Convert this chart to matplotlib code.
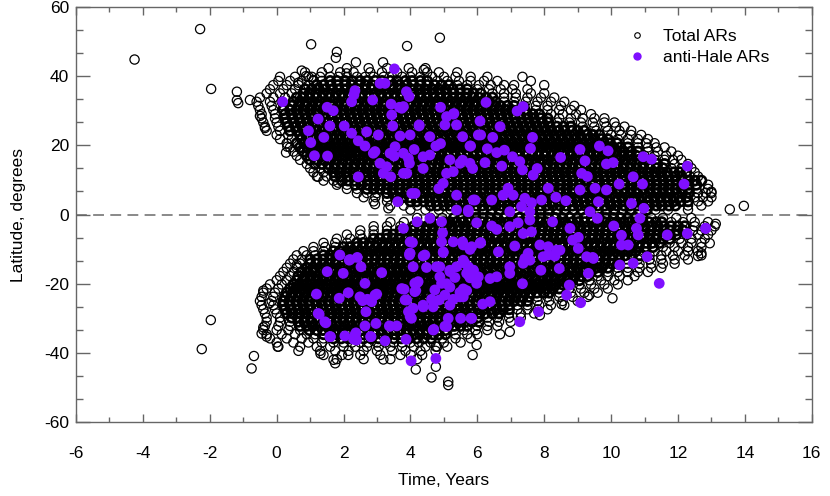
import matplotlib
matplotlib.use("Agg")
import matplotlib.pyplot as plt
import numpy as np
from matplotlib.lines import Line2D
from matplotlib.ticker import MultipleLocator

plt.rcParams["font.family"] = ["Liberation Sans", "DejaVu Sans"]
plt.rcParams["axes.unicode_minus"] = False

# Total ARs, northern wing: (latitude, [times in years]) read row by row
north_rows = [
    (42.3, [1.55, 2.1, 2.75, 3.3, 3.95, 4.45]),
    (41.1, [0.85, 1.35, 1.9, 2.3, 2.8, 3.15, 3.6, 4.05, 4.5, 4.85, 5.4]),
    (39.8, [0.1, 0.55, 0.95, 1.3, 1.6, 1.85, 2.1, 2.4, 2.65, 2.9, 3.2, 3.45, 3.75, 4.0, 4.3, 4.65, 5.0, 5.35, 5.8, 6.3, 7.35]),
    (38.6, [0.05, 0.4, 0.75, 1.1, 1.35, 1.6, 1.8, 2.05, 2.25, 2.5, 2.7, 2.95, 3.15, 3.4, 3.6, 3.85, 4.05, 4.3, 4.5, 4.8, 5.1, 5.45, 5.8, 6.2, 6.6, 7.6]),
    (37.4, [-0.1, 0.3, 0.65, 0.95, 1.2, 1.4, 1.62, 1.83, 2.05, 2.24, 2.45, 2.66, 2.85, 3.07, 3.26, 3.48, 3.67, 3.88, 4.08, 4.3, 4.5, 4.72, 4.93, 5.15, 5.4, 5.7, 6.05, 6.4, 6.8, 7.1, 8.0]),
    (36.2, [-0.2, 0.2, 0.55, 0.85, 1.05, 1.26, 1.45, 1.66, 1.85, 2.06, 2.25, 2.44, 2.65, 2.84, 3.05, 3.24, 3.45, 3.63, 3.84, 4.03, 4.25, 4.44, 4.65, 4.84, 5.05, 5.26, 5.48, 5.7, 6.0, 6.35, 6.7, 7.05, 7.5]),
    (35.0, [-0.3, 0.1, 0.45, 0.8, 0.98, 1.17, 1.38, 1.56, 1.77, 1.95, 2.16, 2.34, 2.55, 2.73, 2.94, 3.12, 3.33, 3.52, 3.72, 3.9, 4.11, 4.3, 4.5, 4.69, 4.9, 5.08, 5.29, 5.48, 5.69, 5.88, 6.1, 6.45, 6.8, 7.15, 7.6, 8.0]),
    (33.8, [-0.5, -0.1, 0.25, 0.6, 0.79, 0.98, 1.19, 1.37, 1.58, 1.76, 1.97, 2.15, 2.36, 2.54, 2.75, 2.93, 3.14, 3.32, 3.53, 3.71, 3.92, 4.1, 4.31, 4.49, 4.7, 4.88, 5.09, 5.27, 5.48, 5.66, 5.87, 6.05, 6.26, 6.45, 6.8, 7.15, 7.5, 7.9, 8.3]),
    (32.6, [-0.6, -0.2, 0.15, 0.5, 0.69, 0.9, 1.08, 1.29, 1.47, 1.68, 1.86, 2.07, 2.25, 2.46, 2.64, 2.85, 3.03, 3.24, 3.42, 3.63, 3.81, 4.02, 4.2, 4.41, 4.59, 4.8, 4.98, 5.19, 5.37, 5.58, 5.76, 5.97, 6.15, 6.36, 6.55, 6.8, 7.1, 7.45, 7.8, 8.2, 8.6]),
    (31.4, [-0.55, -0.15, 0.2, 0.45, 0.66, 0.84, 1.05, 1.23, 1.44, 1.62, 1.83, 2.01, 2.22, 2.4, 2.61, 2.79, 3.0, 3.18, 3.39, 3.57, 3.78, 3.96, 4.17, 4.35, 4.56, 4.74, 4.95, 5.13, 5.34, 5.52, 5.73, 5.91, 6.12, 6.3, 6.51, 6.69, 6.9, 7.1, 7.4, 7.75, 8.1, 8.5, 8.9]),
    (30.2, [-0.5, -0.1, 0.2, 0.4, 0.6, 0.79, 0.99, 1.18, 1.38, 1.57, 1.77, 1.96, 2.16, 2.35, 2.55, 2.74, 2.94, 3.13, 3.33, 3.52, 3.72, 3.91, 4.11, 4.3, 4.5, 4.69, 4.89, 5.08, 5.28, 5.47, 5.67, 5.86, 6.06, 6.25, 6.45, 6.64, 6.84, 7.03, 7.23, 7.42, 7.75, 8.1, 8.45, 8.8, 9.1]),
    (29.0, [-0.45, -0.05, 0.25, 0.45, 0.64, 0.85, 1.03, 1.24, 1.42, 1.63, 1.81, 2.02, 2.2, 2.41, 2.59, 2.8, 2.98, 3.19, 3.37, 3.58, 3.76, 3.97, 4.15, 4.36, 4.54, 4.75, 4.93, 5.14, 5.32, 5.53, 5.71, 5.92, 6.1, 6.31, 6.49, 6.7, 6.88, 7.09, 7.27, 7.48, 7.66, 7.85, 8.2, 8.55, 8.95, 9.4]),
    (27.8, [-0.45, -0.05, 0.25, 0.48, 0.67, 0.88, 1.06, 1.27, 1.45, 1.66, 1.84, 2.05, 2.23, 2.44, 2.62, 2.83, 3.01, 3.22, 3.4, 3.61, 3.79, 4.0, 4.18, 4.39, 4.57, 4.78, 4.96, 5.17, 5.35, 5.56, 5.74, 5.95, 6.13, 6.34, 6.52, 6.73, 6.91, 7.12, 7.3, 7.51, 7.69, 7.9, 8.1, 8.45, 8.8, 9.15, 9.5, 9.8]),
    (26.6, [-0.4, 0.0, 0.3, 0.52, 0.71, 0.92, 1.1, 1.31, 1.49, 1.7, 1.88, 2.09, 2.27, 2.48, 2.66, 2.87, 3.05, 3.26, 3.44, 3.65, 3.83, 4.04, 4.22, 4.43, 4.61, 4.82, 5.0, 5.21, 5.39, 5.6, 5.78, 5.99, 6.17, 6.38, 6.56, 6.77, 6.95, 7.16, 7.34, 7.55, 7.73, 7.94, 8.12, 8.4, 8.75, 9.1, 9.45, 9.8, 10.1]),
    (25.4, [-0.35, 0.05, 0.35, 0.57, 0.76, 0.97, 1.15, 1.36, 1.54, 1.75, 1.93, 2.14, 2.32, 2.53, 2.71, 2.92, 3.1, 3.31, 3.49, 3.7, 3.88, 4.09, 4.27, 4.48, 4.66, 4.87, 5.05, 5.26, 5.44, 5.65, 5.83, 6.04, 6.22, 6.43, 6.61, 6.82, 7.0, 7.21, 7.39, 7.6, 7.78, 7.99, 8.17, 8.38, 8.58, 8.8, 9.15, 9.5, 9.85, 10.15, 10.4]),
    (24.2, [-0.3, 0.1, 0.4, 0.62, 0.81, 1.02, 1.2, 1.41, 1.59, 1.8, 1.98, 2.19, 2.37, 2.58, 2.76, 2.97, 3.15, 3.36, 3.54, 3.75, 3.93, 4.14, 4.32, 4.53, 4.71, 4.92, 5.1, 5.31, 5.49, 5.7, 5.88, 6.09, 6.27, 6.48, 6.66, 6.87, 7.05, 7.26, 7.44, 7.65, 7.83, 8.04, 8.22, 8.43, 8.61, 8.82, 9.0, 9.2, 9.55, 9.9, 10.25, 10.6]),
    (23.0, [0.0, 0.35, 0.7, 0.88, 1.09, 1.27, 1.48, 1.66, 1.87, 2.05, 2.26, 2.44, 2.65, 2.83, 3.04, 3.22, 3.43, 3.61, 3.82, 4.0, 4.21, 4.39, 4.6, 4.78, 4.99, 5.17, 5.38, 5.56, 5.77, 5.95, 6.16, 6.34, 6.55, 6.73, 6.94, 7.12, 7.33, 7.51, 7.72, 7.9, 8.11, 8.29, 8.5, 8.68, 8.89, 9.07, 9.28, 9.46, 9.65, 10.0, 10.3, 10.6, 10.9]),
    (21.8, [0.1, 0.45, 0.75, 0.93, 1.14, 1.32, 1.53, 1.71, 1.92, 2.1, 2.31, 2.49, 2.7, 2.88, 3.09, 3.27, 3.48, 3.66, 3.87, 4.05, 4.26, 4.44, 4.65, 4.83, 5.04, 5.22, 5.43, 5.61, 5.82, 6.0, 6.21, 6.39, 6.6, 6.78, 6.99, 7.17, 7.38, 7.56, 7.77, 7.95, 8.16, 8.34, 8.55, 8.73, 8.94, 9.12, 9.33, 9.51, 9.72, 9.9, 10.2, 10.5, 10.8, 11.1]),
    (20.6, [0.3, 0.6, 0.82, 1.0, 1.21, 1.39, 1.6, 1.78, 1.99, 2.17, 2.38, 2.56, 2.77, 2.95, 3.16, 3.34, 3.55, 3.73, 3.94, 4.12, 4.33, 4.51, 4.72, 4.9, 5.11, 5.29, 5.5, 5.68, 5.89, 6.07, 6.28, 6.46, 6.67, 6.85, 7.06, 7.24, 7.45, 7.63, 7.84, 8.02, 8.23, 8.41, 8.62, 8.8, 9.01, 9.19, 9.4, 9.58, 9.79, 9.97, 10.18, 10.5, 10.8, 11.05, 11.3]),
    (19.4, [0.4, 0.7, 0.92, 1.1, 1.31, 1.49, 1.7, 1.88, 2.09, 2.27, 2.48, 2.66, 2.87, 3.05, 3.26, 3.44, 3.65, 3.83, 4.04, 4.22, 4.43, 4.61, 4.82, 5.0, 5.21, 5.39, 5.6, 5.78, 5.99, 6.17, 6.38, 6.56, 6.77, 6.95, 7.16, 7.34, 7.55, 7.73, 7.94, 8.12, 8.33, 8.51, 8.72, 8.9, 9.11, 9.29, 9.5, 9.68, 9.89, 10.07, 10.28, 10.5, 10.8, 11.1, 11.35, 11.6]),
    (18.2, [0.5, 0.8, 1.02, 1.2, 1.41, 1.59, 1.8, 1.98, 2.19, 2.37, 2.58, 2.76, 2.97, 3.15, 3.36, 3.54, 3.75, 3.93, 4.14, 4.32, 4.53, 4.71, 4.92, 5.1, 5.31, 5.49, 5.7, 5.88, 6.09, 6.27, 6.48, 6.66, 6.87, 7.05, 7.26, 7.44, 7.65, 7.83, 8.04, 8.22, 8.43, 8.61, 8.82, 9.0, 9.21, 9.39, 9.6, 9.78, 9.99, 10.17, 10.38, 10.6, 10.8, 11.1, 11.4, 11.8]),
    (17.0, [0.6, 0.9, 1.1, 1.29, 1.5, 1.67, 1.88, 2.06, 2.25, 2.46, 2.63, 2.84, 3.02, 3.21, 3.42, 3.59, 3.8, 3.98, 4.17, 4.38, 4.55, 4.76, 4.94, 5.13, 5.34, 5.51, 5.72, 5.9, 6.09, 6.3, 6.47, 6.68, 6.86, 7.05, 7.26, 7.43, 7.64, 7.82, 8.01, 8.22, 8.39, 8.6, 8.78, 8.97, 9.18, 9.35, 9.56, 9.74, 9.93, 10.14, 10.31, 10.52, 10.75, 11.0, 11.3, 11.65, 12.0]),
    (15.8, [0.7, 1.0, 1.22, 1.4, 1.61, 1.79, 1.98, 2.19, 2.36, 2.57, 2.75, 2.94, 3.15, 3.32, 3.53, 3.71, 3.9, 4.11, 4.28, 4.49, 4.67, 4.86, 5.07, 5.24, 5.45, 5.63, 5.82, 6.03, 6.2, 6.41, 6.59, 6.78, 6.99, 7.16, 7.37, 7.55, 7.74, 7.95, 8.12, 8.33, 8.51, 8.7, 8.91, 9.08, 9.29, 9.47, 9.66, 9.87, 10.04, 10.25, 10.43, 10.62, 10.83, 11.05, 11.3, 11.6, 11.85, 12.1]),
    (14.6, [0.9, 1.15, 1.36, 1.55, 1.74, 1.95, 2.12, 2.33, 2.51, 2.7, 2.91, 3.08, 3.29, 3.47, 3.66, 3.87, 4.04, 4.25, 4.43, 4.62, 4.83, 5.0, 5.21, 5.39, 5.58, 5.79, 5.96, 6.17, 6.35, 6.54, 6.75, 6.92, 7.13, 7.31, 7.5, 7.71, 7.88, 8.09, 8.27, 8.46, 8.67, 8.84, 9.05, 9.23, 9.42, 9.63, 9.8, 10.01, 10.19, 10.38, 10.59, 10.76, 10.97, 11.15, 11.38, 11.6, 11.9, 12.3]),
    (13.4, [1.0, 1.3, 1.55, 1.73, 1.94, 2.12, 2.31, 2.52, 2.69, 2.9, 3.08, 3.27, 3.48, 3.65, 3.86, 4.04, 4.23, 4.44, 4.61, 4.82, 5.0, 5.19, 5.4, 5.57, 5.78, 5.96, 6.15, 6.36, 6.53, 6.74, 6.92, 7.11, 7.32, 7.49, 7.7, 7.88, 8.07, 8.28, 8.45, 8.66, 8.84, 9.03, 9.24, 9.41, 9.62, 9.8, 9.99, 10.2, 10.37, 10.58, 10.76, 10.95, 11.16, 11.35, 11.55, 11.8, 12.1, 12.4]),
    (12.2, [1.1, 1.4, 1.7, 1.88, 2.07, 2.28, 2.45, 2.66, 2.84, 3.03, 3.24, 3.41, 3.62, 3.8, 3.99, 4.2, 4.37, 4.58, 4.76, 4.95, 5.16, 5.33, 5.54, 5.72, 5.91, 6.12, 6.29, 6.5, 6.68, 6.87, 7.08, 7.25, 7.46, 7.64, 7.83, 8.04, 8.21, 8.42, 8.6, 8.79, 9.0, 9.17, 9.38, 9.56, 9.75, 9.96, 10.13, 10.34, 10.52, 10.71, 10.92, 11.09, 11.3, 11.48, 11.67, 11.88, 12.05, 12.25, 12.5]),
    (11.0, [1.2, 1.5, 1.75, 1.92, 2.11, 2.32, 2.49, 2.7, 2.88, 3.07, 3.28, 3.45, 3.66, 3.84, 4.03, 4.24, 4.41, 4.62, 4.8, 4.99, 5.2, 5.37, 5.58, 5.76, 5.95, 6.16, 6.33, 6.54, 6.72, 6.91, 7.12, 7.29, 7.5, 7.68, 7.87, 8.08, 8.25, 8.46, 8.64, 8.83, 9.04, 9.21, 9.42, 9.6, 9.79, 10.0, 10.17, 10.38, 10.56, 10.75, 10.96, 11.13, 11.34, 11.52, 11.71, 11.92, 12.1, 12.35, 12.6]),
    (9.8, [1.4, 1.7, 1.95, 2.13, 2.34, 2.52, 2.71, 2.92, 3.09, 3.3, 3.48, 3.67, 3.88, 4.05, 4.26, 4.44, 4.63, 4.84, 5.01, 5.22, 5.4, 5.59, 5.8, 5.97, 6.18, 6.36, 6.55, 6.76, 6.93, 7.14, 7.32, 7.51, 7.72, 7.89, 8.1, 8.28, 8.47, 8.68, 8.85, 9.06, 9.24, 9.43, 9.64, 9.81, 10.02, 10.2, 10.39, 10.6, 10.77, 10.98, 11.16, 11.35, 11.56, 11.73, 11.94, 12.12, 12.3, 12.5, 12.7]),
    (8.6, [1.8, 2.1, 2.35, 2.53, 2.72, 2.93, 3.1, 3.31, 3.49, 3.68, 3.89, 4.06, 4.27, 4.45, 4.64, 4.85, 5.02, 5.23, 5.41, 5.6, 5.81, 5.98, 6.19, 6.37, 6.56, 6.77, 6.94, 7.15, 7.33, 7.52, 7.73, 7.9, 8.11, 8.29, 8.48, 8.69, 8.86, 9.07, 9.25, 9.44, 9.65, 9.82, 10.03, 10.21, 10.4, 10.61, 10.78, 10.99, 11.17, 11.36, 11.57, 11.74, 11.95, 12.13, 12.32, 12.55, 12.9]),
    (7.4, [2.1, 2.4, 2.7, 2.9, 3.08, 3.29, 3.47, 3.66, 3.87, 4.04, 4.25, 4.43, 4.62, 4.83, 5.0, 5.21, 5.39, 5.58, 5.79, 5.96, 6.17, 6.35, 6.54, 6.75, 6.92, 7.13, 7.31, 7.5, 7.71, 7.88, 8.09, 8.27, 8.46, 8.67, 8.84, 9.05, 9.23, 9.42, 9.63, 9.8, 10.01, 10.19, 10.38, 10.59, 10.76, 10.97, 11.15, 11.34, 11.55, 11.72, 11.93, 12.11, 12.3, 12.55, 12.9]),
    (6.2, [2.4, 2.7, 3.0, 3.3, 3.48, 3.69, 3.87, 4.06, 4.27, 4.44, 4.65, 4.83, 5.02, 5.23, 5.4, 5.61, 5.79, 5.98, 6.19, 6.36, 6.57, 6.75, 6.94, 7.15, 7.32, 7.53, 7.71, 7.9, 8.11, 8.28, 8.49, 8.67, 8.86, 9.07, 9.24, 9.45, 9.63, 9.82, 10.03, 10.2, 10.41, 10.59, 10.78, 10.99, 11.16, 11.37, 11.55, 11.74, 11.95, 12.12, 12.33, 12.6, 13.0]),
    (5.0, [2.6, 2.95, 3.3, 3.6, 3.79, 3.98, 4.19, 4.36, 4.57, 4.75, 4.94, 5.15, 5.32, 5.53, 5.71, 5.9, 6.11, 6.28, 6.49, 6.67, 6.86, 7.07, 7.24, 7.45, 7.63, 7.82, 8.03, 8.2, 8.41, 8.59, 8.78, 8.99, 9.16, 9.37, 9.55, 9.74, 9.95, 10.12, 10.33, 10.51, 10.7, 10.91, 11.08, 11.29, 11.47, 11.66, 11.87, 12.04, 12.25, 12.5, 12.75, 13.0]),
    (3.8, [2.9, 3.3, 3.65, 4.0, 4.19, 4.4, 4.58, 4.77, 4.98, 5.15, 5.36, 5.54, 5.73, 5.94, 6.11, 6.32, 6.5, 6.69, 6.9, 7.07, 7.28, 7.46, 7.65, 7.86, 8.03, 8.24, 8.42, 8.61, 8.82, 8.99, 9.2, 9.38, 9.57, 9.78, 9.95, 10.16, 10.34, 10.53, 10.74, 10.91, 11.12, 11.3, 11.49, 11.7, 11.87, 12.08, 12.3, 12.6, 12.9]),
    (2.6, [3.4, 3.8, 4.2, 4.6, 4.8, 5.01, 5.19, 5.38, 5.59, 5.76, 5.97, 6.15, 6.34, 6.55, 6.72, 6.93, 7.11, 7.3, 7.51, 7.68, 7.89, 8.07, 8.26, 8.47, 8.64, 8.85, 9.03, 9.22, 9.43, 9.6, 9.81, 9.99, 10.18, 10.39, 10.56, 10.77, 10.95, 11.14, 11.35, 11.52, 11.73, 11.92, 12.3, 12.7]),
    (1.4, [4.0, 4.45, 4.85, 5.2, 5.45, 5.68, 5.94, 6.17, 6.43, 6.66, 6.92, 7.15, 7.41, 7.64, 7.9, 8.13, 8.39, 8.62, 8.88, 9.11, 9.37, 9.6, 9.86, 10.09, 10.35, 10.58, 10.84, 11.07, 11.33, 11.7, 12.3]),
]

# Total ARs, southern wing
south_rows = [
    (-1.0, [4.2, 4.6, 4.95, 5.3, 5.52, 5.74, 5.95, 6.17, 6.39, 6.6, 6.82, 7.04, 7.25, 7.47, 7.69, 7.9, 8.12, 8.34, 8.55, 8.77, 8.99, 9.2, 9.42, 9.64, 9.85, 10.07, 10.29, 10.5, 10.72, 10.94, 11.2, 11.55, 11.95, 12.4]),
    (-2.2, [3.4, 3.8, 4.2, 4.6, 4.79, 5.0, 5.18, 5.37, 5.58, 5.75, 5.96, 6.14, 6.33, 6.54, 6.71, 6.92, 7.1, 7.29, 7.5, 7.67, 7.88, 8.06, 8.25, 8.46, 8.63, 8.84, 9.02, 9.21, 9.42, 9.59, 9.8, 9.98, 10.17, 10.38, 10.55, 10.76, 10.94, 11.13, 11.34, 11.51, 11.8, 12.15, 12.5, 12.9]),
    (-3.4, [2.9, 3.3, 3.7, 4.1, 4.28, 4.49, 4.67, 4.86, 5.07, 5.24, 5.45, 5.63, 5.82, 6.03, 6.2, 6.41, 6.59, 6.78, 6.99, 7.16, 7.37, 7.55, 7.74, 7.95, 8.12, 8.33, 8.51, 8.7, 8.91, 9.08, 9.29, 9.47, 9.66, 9.87, 10.04, 10.25, 10.43, 10.62, 10.83, 11.0, 11.21, 11.39, 11.58, 11.79, 12.0, 12.2, 12.5, 12.8, 13.1]),
    (-4.6, [2.5, 2.9, 3.3, 3.7, 3.89, 4.08, 4.29, 4.46, 4.67, 4.85, 5.04, 5.25, 5.42, 5.63, 5.81, 6.0, 6.21, 6.38, 6.59, 6.77, 6.96, 7.17, 7.34, 7.55, 7.73, 7.92, 8.13, 8.3, 8.51, 8.69, 8.88, 9.09, 9.26, 9.47, 9.65, 9.84, 10.05, 10.22, 10.43, 10.61, 10.8, 11.01, 11.18, 11.39, 11.57, 11.76, 11.97, 12.15, 12.45, 12.7, 13.0]),
    (-5.8, [2.1, 2.5, 2.9, 3.3, 3.48, 3.69, 3.87, 4.06, 4.27, 4.44, 4.65, 4.83, 5.02, 5.23, 5.4, 5.61, 5.79, 5.98, 6.19, 6.36, 6.57, 6.75, 6.94, 7.15, 7.32, 7.53, 7.71, 7.9, 8.11, 8.28, 8.49, 8.67, 8.86, 9.07, 9.24, 9.45, 9.63, 9.82, 10.03, 10.2, 10.41, 10.59, 10.78, 10.99, 11.16, 11.37, 11.55, 11.74, 11.95, 12.25, 12.6, 12.9]),
    (-7.0, [1.8, 2.2, 2.55, 2.9, 3.08, 3.29, 3.47, 3.66, 3.87, 4.04, 4.25, 4.43, 4.62, 4.83, 5.0, 5.21, 5.39, 5.58, 5.79, 5.96, 6.17, 6.35, 6.54, 6.75, 6.92, 7.13, 7.31, 7.5, 7.71, 7.88, 8.09, 8.27, 8.46, 8.67, 8.84, 9.05, 9.23, 9.42, 9.63, 9.8, 10.01, 10.19, 10.38, 10.59, 10.76, 10.97, 11.15, 11.34, 11.55, 11.75, 12.05, 12.4, 12.8]),
    (-8.2, [1.4, 1.75, 2.1, 2.4, 2.59, 2.78, 2.99, 3.16, 3.37, 3.55, 3.74, 3.95, 4.12, 4.33, 4.51, 4.7, 4.91, 5.08, 5.29, 5.47, 5.66, 5.87, 6.04, 6.25, 6.43, 6.62, 6.83, 7.0, 7.21, 7.39, 7.58, 7.79, 7.96, 8.17, 8.35, 8.54, 8.75, 8.92, 9.13, 9.31, 9.5, 9.71, 9.88, 10.09, 10.27, 10.46, 10.67, 10.84, 11.05, 11.23, 11.45, 11.75, 12.1, 12.4, 12.7]),
    (-9.4, [1.1, 1.45, 1.75, 2.0, 2.19, 2.4, 2.57, 2.78, 2.96, 3.15, 3.36, 3.53, 3.74, 3.92, 4.11, 4.32, 4.49, 4.7, 4.88, 5.07, 5.28, 5.45, 5.66, 5.84, 6.03, 6.24, 6.41, 6.62, 6.8, 6.99, 7.2, 7.37, 7.58, 7.76, 7.95, 8.16, 8.33, 8.54, 8.72, 8.91, 9.12, 9.29, 9.5, 9.68, 9.87, 10.08, 10.25, 10.46, 10.64, 10.83, 11.04, 11.25, 11.55, 11.9, 12.3, 12.7]),
    (-10.6, [0.8, 1.1, 1.4, 1.7, 1.88, 2.09, 2.27, 2.46, 2.67, 2.84, 3.05, 3.23, 3.42, 3.63, 3.8, 4.01, 4.19, 4.38, 4.59, 4.76, 4.97, 5.15, 5.34, 5.55, 5.72, 5.93, 6.11, 6.3, 6.51, 6.68, 6.89, 7.07, 7.26, 7.47, 7.64, 7.85, 8.03, 8.22, 8.43, 8.6, 8.81, 8.99, 9.18, 9.39, 9.56, 9.77, 9.95, 10.14, 10.35, 10.52, 10.73, 11.0, 11.3, 11.65, 12.0, 12.3, 12.6]),
    (-11.8, [0.6, 0.9, 1.15, 1.4, 1.59, 1.78, 1.99, 2.16, 2.37, 2.55, 2.74, 2.95, 3.12, 3.33, 3.51, 3.7, 3.91, 4.08, 4.29, 4.47, 4.66, 4.87, 5.04, 5.25, 5.43, 5.62, 5.83, 6.0, 6.21, 6.39, 6.58, 6.79, 6.96, 7.17, 7.35, 7.54, 7.75, 7.92, 8.13, 8.31, 8.5, 8.71, 8.88, 9.09, 9.27, 9.46, 9.67, 9.84, 10.05, 10.23, 10.42, 10.63, 10.85, 11.15, 11.5, 11.85, 12.2, 12.7]),
    (-13.0, [0.5, 0.75, 1.0, 1.2, 1.39, 1.6, 1.77, 1.98, 2.16, 2.35, 2.56, 2.73, 2.94, 3.12, 3.31, 3.52, 3.69, 3.9, 4.08, 4.27, 4.48, 4.65, 4.86, 5.04, 5.23, 5.44, 5.61, 5.82, 6.0, 6.19, 6.4, 6.57, 6.78, 6.96, 7.15, 7.36, 7.53, 7.74, 7.92, 8.11, 8.32, 8.49, 8.7, 8.88, 9.07, 9.28, 9.45, 9.66, 9.84, 10.03, 10.24, 10.5, 10.8, 11.15, 11.5, 11.9, 12.3]),
    (-14.2, [0.4, 0.7, 1.0, 1.18, 1.39, 1.57, 1.76, 1.97, 2.14, 2.35, 2.53, 2.72, 2.93, 3.1, 3.31, 3.49, 3.68, 3.89, 4.06, 4.27, 4.45, 4.64, 4.85, 5.02, 5.23, 5.41, 5.6, 5.81, 5.98, 6.19, 6.37, 6.56, 6.77, 6.94, 7.15, 7.33, 7.52, 7.73, 7.9, 8.11, 8.29, 8.48, 8.69, 8.86, 9.07, 9.25, 9.44, 9.65, 9.82, 10.03, 10.2, 10.5, 10.85, 11.2, 11.55, 11.9]),
    (-15.4, [0.3, 0.6, 0.9, 1.08, 1.29, 1.47, 1.66, 1.87, 2.04, 2.25, 2.43, 2.62, 2.83, 3.0, 3.21, 3.39, 3.58, 3.79, 3.96, 4.17, 4.35, 4.54, 4.75, 4.92, 5.13, 5.31, 5.5, 5.71, 5.88, 6.09, 6.27, 6.46, 6.67, 6.84, 7.05, 7.23, 7.42, 7.63, 7.8, 8.01, 8.19, 8.38, 8.59, 8.76, 8.97, 9.15, 9.34, 9.55, 9.72, 9.9, 10.2, 10.5, 10.85, 11.2, 11.5]),
    (-16.6, [0.2, 0.5, 0.75, 0.94, 1.15, 1.32, 1.53, 1.71, 1.9, 2.11, 2.28, 2.49, 2.67, 2.86, 3.07, 3.24, 3.45, 3.63, 3.82, 4.03, 4.2, 4.41, 4.59, 4.78, 4.99, 5.16, 5.37, 5.55, 5.74, 5.95, 6.12, 6.33, 6.51, 6.7, 6.91, 7.08, 7.29, 7.47, 7.66, 7.87, 8.04, 8.25, 8.43, 8.62, 8.83, 9.0, 9.21, 9.4, 9.6, 9.9, 10.2, 10.5, 10.8, 11.1]),
    (-17.8, [0.1, 0.4, 0.65, 0.84, 1.03, 1.24, 1.41, 1.62, 1.8, 1.99, 2.2, 2.37, 2.58, 2.76, 2.95, 3.16, 3.33, 3.54, 3.72, 3.91, 4.12, 4.29, 4.5, 4.68, 4.87, 5.08, 5.25, 5.46, 5.64, 5.83, 6.04, 6.21, 6.42, 6.6, 6.79, 7.0, 7.17, 7.38, 7.56, 7.75, 7.96, 8.13, 8.34, 8.52, 8.71, 8.92, 9.1, 9.3, 9.6, 9.9, 10.25, 10.7]),
    (-19.0, [0.0, 0.3, 0.6, 0.78, 0.99, 1.17, 1.36, 1.57, 1.74, 1.95, 2.13, 2.32, 2.53, 2.7, 2.91, 3.09, 3.28, 3.49, 3.66, 3.87, 4.05, 4.24, 4.45, 4.62, 4.83, 5.01, 5.2, 5.41, 5.58, 5.79, 5.97, 6.16, 6.37, 6.54, 6.75, 6.93, 7.12, 7.33, 7.5, 7.71, 7.89, 8.08, 8.29, 8.46, 8.67, 8.85, 9.05, 9.35, 9.7, 10.1, 10.5]),
    (-20.2, [-0.2, 0.15, 0.5, 0.68, 0.89, 1.07, 1.26, 1.47, 1.64, 1.85, 2.03, 2.22, 2.43, 2.6, 2.81, 2.99, 3.18, 3.39, 3.56, 3.77, 3.95, 4.14, 4.35, 4.52, 4.73, 4.91, 5.1, 5.31, 5.48, 5.69, 5.87, 6.06, 6.27, 6.44, 6.65, 6.83, 7.02, 7.23, 7.4, 7.61, 7.79, 7.98, 8.19, 8.36, 8.55, 8.75, 9.05, 9.4, 9.8, 10.2]),
    (-21.4, [-0.3, 0.05, 0.4, 0.58, 0.79, 0.97, 1.16, 1.37, 1.54, 1.75, 1.93, 2.12, 2.33, 2.5, 2.71, 2.89, 3.08, 3.29, 3.46, 3.67, 3.85, 4.04, 4.25, 4.42, 4.63, 4.81, 5.0, 5.21, 5.38, 5.59, 5.77, 5.96, 6.17, 6.34, 6.55, 6.73, 6.92, 7.13, 7.3, 7.51, 7.69, 7.88, 8.09, 8.26, 8.45, 8.75, 9.1, 9.5, 9.9]),
    (-22.6, [-0.4, -0.05, 0.3, 0.48, 0.69, 0.87, 1.06, 1.27, 1.44, 1.65, 1.83, 2.02, 2.23, 2.4, 2.61, 2.79, 2.98, 3.19, 3.36, 3.57, 3.75, 3.94, 4.15, 4.32, 4.53, 4.71, 4.9, 5.11, 5.28, 5.49, 5.67, 5.86, 6.07, 6.24, 6.45, 6.63, 6.82, 7.03, 7.2, 7.41, 7.59, 7.78, 7.99, 8.15, 8.45, 8.8, 9.2, 9.6]),
    (-23.8, [-0.45, -0.1, 0.25, 0.43, 0.64, 0.82, 1.01, 1.22, 1.39, 1.6, 1.78, 1.97, 2.18, 2.35, 2.56, 2.74, 2.93, 3.14, 3.31, 3.52, 3.7, 3.89, 4.1, 4.27, 4.48, 4.66, 4.85, 5.06, 5.23, 5.44, 5.62, 5.81, 6.02, 6.19, 6.4, 6.58, 6.77, 6.98, 7.15, 7.36, 7.54, 7.8, 8.1, 8.45, 8.85, 9.3]),
    (-25.0, [-0.5, -0.15, 0.2, 0.38, 0.59, 0.77, 0.96, 1.17, 1.34, 1.55, 1.73, 1.92, 2.13, 2.3, 2.51, 2.69, 2.88, 3.09, 3.26, 3.47, 3.65, 3.84, 4.05, 4.22, 4.43, 4.61, 4.8, 5.01, 5.18, 5.39, 5.57, 5.76, 5.97, 6.14, 6.35, 6.53, 6.72, 6.93, 7.1, 7.3, 7.5, 7.8, 8.15, 8.55, 9.0]),
    (-26.2, [-0.45, -0.1, 0.2, 0.4, 0.61, 0.79, 0.98, 1.19, 1.36, 1.57, 1.75, 1.94, 2.15, 2.32, 2.53, 2.71, 2.9, 3.11, 3.28, 3.49, 3.67, 3.86, 4.07, 4.24, 4.45, 4.63, 4.82, 5.03, 5.2, 5.41, 5.59, 5.78, 5.99, 6.16, 6.37, 6.55, 6.74, 6.95, 7.2, 7.5, 7.85, 8.2, 8.6]),
    (-27.4, [-0.4, -0.05, 0.25, 0.43, 0.64, 0.82, 1.01, 1.22, 1.39, 1.6, 1.78, 1.97, 2.18, 2.35, 2.56, 2.74, 2.93, 3.14, 3.31, 3.52, 3.7, 3.89, 4.1, 4.27, 4.48, 4.66, 4.85, 5.06, 5.23, 5.44, 5.62, 5.81, 6.02, 6.19, 6.4, 6.58, 6.77, 6.95, 7.2, 7.5, 7.8, 8.1]),
    (-28.6, [-0.35, 0.0, 0.3, 0.48, 0.69, 0.87, 1.06, 1.27, 1.44, 1.65, 1.83, 2.02, 2.23, 2.4, 2.61, 2.79, 2.98, 3.19, 3.36, 3.57, 3.75, 3.94, 4.15, 4.32, 4.53, 4.71, 4.9, 5.11, 5.28, 5.49, 5.67, 5.86, 6.07, 6.24, 6.45, 6.65, 6.95, 7.3, 7.7]),
    (-29.8, [-0.3, 0.1, 0.45, 0.63, 0.84, 1.02, 1.21, 1.42, 1.59, 1.8, 1.98, 2.17, 2.38, 2.55, 2.76, 2.94, 3.13, 3.34, 3.51, 3.72, 3.9, 4.09, 4.3, 4.47, 4.68, 4.86, 5.05, 5.26, 5.43, 5.64, 5.82, 6.01, 6.3, 6.6, 6.95, 7.3]),
    (-31.0, [-0.3, 0.1, 0.4, 0.65, 0.83, 1.04, 1.22, 1.41, 1.62, 1.79, 2.0, 2.18, 2.37, 2.58, 2.75, 2.96, 3.14, 3.33, 3.54, 3.71, 3.92, 4.1, 4.29, 4.5, 4.67, 4.88, 5.06, 5.25, 5.46, 5.63, 5.84, 6.05, 6.35, 6.65, 7.0]),
    (-32.2, [-0.35, 0.05, 0.4, 0.7, 0.9, 1.08, 1.29, 1.47, 1.66, 1.87, 2.04, 2.25, 2.43, 2.62, 2.83, 3.0, 3.21, 3.39, 3.58, 3.79, 3.96, 4.17, 4.35, 4.54, 4.75, 4.92, 5.13, 5.31, 5.5, 5.7, 6.0, 6.3, 6.6]),
    (-33.4, [-0.4, 0.0, 0.35, 0.7, 0.98, 1.2, 1.38, 1.59, 1.77, 1.96, 2.17, 2.34, 2.55, 2.73, 2.92, 3.13, 3.3, 3.51, 3.69, 3.88, 4.09, 4.26, 4.47, 4.65, 4.84, 5.05, 5.3, 5.6, 5.95, 6.3]),
    (-34.6, [-0.3, 0.15, 0.55, 0.9, 1.15, 1.4, 1.61, 1.79, 1.98, 2.19, 2.36, 2.57, 2.75, 2.94, 3.15, 3.32, 3.53, 3.71, 3.9, 4.11, 4.28, 4.49, 4.67, 4.85, 5.05, 5.35, 5.7, 6.0]),
    (-35.8, [-0.2, 0.3, 0.75, 1.1, 1.4, 1.7, 1.93, 2.15, 2.38, 2.6, 2.83, 3.05, 3.28, 3.5, 3.73, 3.95, 4.18, 4.4, 4.62, 4.95, 5.35, 5.8]),
    (-37.0, [0.0, 0.5, 0.95, 1.35, 1.7, 2.0, 2.25, 2.5, 2.75, 3.0, 3.25, 3.5, 3.75, 4.0, 4.25, 4.6, 5.0, 5.5]),
    (-38.2, [0.05, 0.7, 1.2, 1.6, 2.0, 2.35, 2.7, 3.05, 3.4, 3.75, 4.1, 4.45, 4.8, 5.1]),
    (-39.4, [0.65, 1.3, 1.75, 2.15, 2.6, 3.0, 3.45, 3.85, 4.3, 4.75]),
    (-40.6, [1.4, 1.95, 2.5, 3.1, 3.7, 4.35]),
    (-41.8, [1.8, 2.6, 3.4, 4.2]),
]

# Isolated Total ARs away from the wings
outlier_t = [-4.25, -2.29, -1.96, -1.19, -1.19, -1.15, -0.8, -0.5, -0.35, 0.65, 0.75, 0.88, 1.05, 1.1,
             1.03, 1.8, 1.77, 2.37, 2.09, 3.18, 3.9, 4.88, 4.4, 0.28, 0.32, 1.24, 1.84, 2.94, 3.34,
             13.55, 13.97, 12.83, 13.0, 13.13,
             -2.24, -1.97, -0.68, -0.75, -0.4, -0.45, -0.3, -0.4, -0.22, 0.03, 0.6, 1.31, 2.14, 3.19, 4.01,
             4.63, 5.13, 5.13, 4.16, 5.86, 5.98, 4.76, 4.76, 10.04, 9.35, 8.52, 7.87, 6.68, 6.97,
             12.6, 12.7, 12.95, 1.75, 1.7]
outlier_lat = [44.8, 53.6, 36.3, 35.5, 33.0, 32.2, 33.1, 28.5, 25.0, 38.1, 41.6, 40.0, 39.8, 38.9,
               49.2, 47.0, 45.3, 44.0, 40.8, 44.0, 48.7, 51.1, 41.8, 17.9, 19.6, 10.9, 9.2, 3.0, 1.8,
               1.5, 2.5, 6.3, 6.6, -2.7,
               -38.9, -30.5, -40.9, -44.5, -32.6, -34.4, -35.3, -22.0, -25.7, -38.2, -14.6, -40.2, -40.6, -41.9, -40.6,
               -47.1, -48.3, -49.3, -44.8, -40.6, -37.7, -44.0, -38.2, -24.2, -23.3, -25.9, -29.1, -34.6, -33.9,
               -12.0, -11.2, -8.3, -43.0, -42.0]

# anti-Hale ARs
hale_t = [0.18, 1.51, 1.69, 1.24, 1.59, 0.95, 1.41, 1.02, 1.13, 1.52, 2.02, 2.24, 2.34, 2.24, 2.31, 2.44, 2.69,
          2.64, 2.87, 3.04, 2.94, 3.09, 3.24, 3.52, 3.42, 3.44, 3.47, 3.74, 3.88, 3.96, 3.69, 3.99, 3.54,
          3.39, 3.19, 2.44, 3.79, 3.94, 4.11, 4.26, 4.04, 3.62, 4.38, 4.58, 4.38, 4.58, 4.76, 4.9, 5.08,
          5.28, 5.03, 5.38, 5.56, 5.78, 5.18, 5.08, 5.28, 4.98, 5.48, 5.78, 5.38, 5.88, 5.38, 5.73, 6.03,
          3.29, 3.51, 3.79, 3.89, 4.14, 3.97, 2.89, 3.09, 3.67, 3.41,
          6.26, 7.37, 7.19, 6.08, 6.68, 6.1, 6.46, 7.65, 5.8, 6.3, 6.58, 6.81, 7.05, 7.59, 5.56, 5.86,
          6.23, 6.73, 7.27, 7.35, 7.79, 7.67, 8.12, 8.49, 9.07, 9.22, 9.12, 9.29, 9.07, 9.52, 9.86, 9.65,
          9.91, 9.86, 10.06, 10.24, 10.66, 10.94, 10.96, 11.21, 12.28, 12.18, 6.92, 6.77, 7.07, 6.97,
          6.43, 5.93, 5.73, 7.42, 7.62, 7.92, 8.35, 8.65, 7.32, 7.57, 9.62, 9.37, 10.61, 10.98, 5.3, 4.26,
          3.79, 4.9, 4.85,
          3.79, 4.2, 4.58, 4.93, 1.89, 2.19, 2.41, 1.51, 1.99, 2.52, 3.14, 4.06, 3.99, 4.38, 4.96, 4.93,
          4.98, 5.28, 5.58, 5.83, 4.08, 4.48, 4.88, 5.18, 5.38, 5.63, 5.88, 1.19, 1.87, 2.14, 2.64, 2.49,
          2.71, 2.94, 2.84, 2.67, 3.74, 3.81, 4.2, 4.16, 3.89, 4.08, 4.38, 4.63, 4.86, 5.18, 5.03, 5.48,
          3.99, 4.68, 5.08, 5.5, 5.83, 1.24, 1.47, 1.59, 2.04, 2.34, 2.39, 2.64, 2.97, 3.37, 3.59, 2.81,
          3.24, 3.87, 4.02, 4.76, 4.88, 5.18, 5.48, 5.28, 5.68, 5.08, 5.33, 5.78, 5.58,
          5.98, 6.43, 6.58, 6.97, 7.22, 7.57, 7.37, 7.62, 8.25, 8.77, 9.02, 8.85, 9.02, 9.59, 10.08,
          10.31, 10.31, 10.51, 10.76, 10.86, 10.81, 11.68, 12.28, 12.83, 10.66, 11.08, 10.26, 11.44,
          9.32, 9.27, 9.45, 8.75, 8.67, 9.09, 7.83, 7.27, 5.81, 6.16, 6.38, 7.35, 6.97, 6.97, 7.37,
          7.9, 8.45, 8.12, 8.32, 8.47, 7.97, 7.57, 7.52, 6.63, 7.12, 6.1, 5.56, 5.78, 5.88, 6.03, 6.38,
          6.58, 5.58, 5.58, 5.73, 4.7, 5.03, 5.13, 4.78, 5.18, 5.68, 7.42, 8.12, 9.47, 4.98, 4.43,
          3.98, 6.08, 7.87, 8.37, 5.98, 4.93, 4.73, 4.03, 4.38, 4.68, 3.84, 4.23, 4.13, 2.17, 2.99,
          2.57, 1.27, 1.44, 3.39, 1.61, 2.31, 2.37, 2.82, 3.97, 3.99, 4.13, 3.94, 12.83]
hale_lat = [32.6, 31.0, 30.0, 27.6, 25.6, 24.2, 22.3, 20.8, 17.0, 16.9, 25.6, 23.5, 35.8, 32.6, 34.6, 21.3, 23.9,
            19.8, 33.1, 23.0, 18.2, 37.9, 37.9, 42.1, 31.9, 28.8, 25.6, 30.7, 35.5, 34.1, 22.7, 23.0, 19.6,
            17.7, 11.9, 10.9, 11.9, 16.2, 18.8, 25.6, 6.1, 3.7, 16.7, 17.2, 13.3, 22.5, 19.8, 31.0, 28.3,
            29.0, 25.9, 25.9, 22.5, 19.8, 15.8, 11.9, 12.4, 9.0, 14.8, 14.8, 5.6, 4.2, 1.3, 1.3, 23.0,
            13.8, 16.9, 17.7, 11.9, 6.1, 14.8, 17.7, 14.8, 31.0, 10.9,
            32.4, 31.2, 29.9, 27.0, 25.4, 23.0, 22.3, 22.3, 19.8, 19.0, 17.9, 18.6, 16.7, 19.1, 15.7, 13.3,
            15.0, 14.0, 15.3, 12.9, 13.3, 11.4, 7.6, 16.5, 18.8, 15.5, 11.9, 11.0, 7.1, 7.6, 7.1, 19.8,
            18.4, 14.6, 15.0, 8.8, 10.9, 8.8, 16.7, 16.0, 14.0, 8.8, 7.6, 5.6, 5.6, 0.8,
            4.2, 4.2, 0.8, 4.7, 3.4, 4.2, 5.0, 4.0, 2.3, 0.8, 3.7, 0.8, 3.2, 1.8, 29.2, 25.9,
            31.2, 20.5, 7.5,
            -4.0, -2.1, -1.1, -2.1, -11.7, -13.0, -12.4, -16.5, -17.0, -15.1, -16.8, -8.1, -11.2, -12.0, -5.3, -7.9,
            -11.0, -7.9, -8.8, -9.3, -15.1, -15.3, -15.1, -16.1, -15.1, -14.1, -16.1, -23.0, -24.2, -22.6, -19.9, -23.8,
            -24.5, -23.3, -25.2, -28.1, -21.4, -21.6, -19.7, -22.0, -24.7, -27.1, -26.7, -24.5, -24.7, -26.2, -23.3, -23.8,
            -29.5, -33.4, -32.4, -30.0, -30.0, -28.6, -31.3, -35.3, -35.1, -34.8, -36.3, -32.2, -31.5, -32.2, -32.2, -35.3,
            -36.5, -36.1, -42.3, -41.6, -18.0, -21.0, -22.5, -24.5, -22.0, -20.0, -18.2, -18.3, -21.5,
            -2.4, -3.3, -4.3, -3.5, -2.4, -1.6, -5.5, -5.0, -2.1, -4.0, -6.6, -7.4, -9.8, -1.1, -3.3,
            -6.0, -8.8, -8.8, -4.0, -1.1, -5.9, -5.9, -5.5, -4.0, -14.1, -12.2, -14.6, -19.9,
            -17.0, -12.2, -12.4, -20.4, -23.3, -25.5, -28.1, -31.0, -30.0, -25.9, -25.2, -20.0, -17.0, -15.1, -14.1,
            -16.1, -15.6, -9.3, -12.0, -10.3, -12.2, -13.2, -11.2, -10.8, -9.1, -8.1, -7.9, -10.1, -16.1, -18.0, -18.5,
            -18.0, -23.8, -13.2, -15.1, -33.2, -32.3, -30.0, -15.1, -16.5, -17.0, -12.7, -11.7, -12.7, -10.8, -11.7,
            -11.2, -8.3, -8.8, -10.3, -19.9, -19.9, -21.8, -30.0, -26.2, -26.7, -24.7, -19.4, -22.3, -13.2, -23.0,
            -24.9, -28.8, -31.0, -32.3, -35.3, -36.1, -34.2, -35.3, -11.7, -7.9, -19.9, -28.1, -4.0]

HALE_COLOR = "#7f0fff"
FRAME_COLOR = "#666666"


def expand_rows(rows, sparse_gap=0.24):
    """Flatten (latitude, [times]) rows; thin outline where a row is sparse."""
    times, lats, widths = [], [], []
    for lat, row in rows:
        row = np.asarray(row)
        gaps = np.diff(row)
        left = np.r_[np.inf, gaps]
        right = np.r_[gaps, np.inf]
        crowded = np.minimum(left, right) < sparse_gap
        times.extend(row)
        lats.extend([lat] * len(row))
        widths.extend(np.where(crowded, 1.9, 0.9))
    return np.array(times), np.array(lats), np.array(widths)


def main():
    nt, nl, nw = expand_rows(north_rows)
    st, sl, sw = expand_rows(south_rows)
    total_t = np.concatenate([nt, st, outlier_t])
    total_lat = np.concatenate([nl, sl, outlier_lat])
    total_w = np.concatenate([nw, sw, np.full(len(outlier_t), 0.9)])

    fig = plt.figure(figsize=(8.3, 4.96), dpi=100)
    ax = fig.add_axes([0.0916, 0.149, 0.8864, 0.837])

    ax.axhline(0, color="#808080", lw=1.3, dashes=(6, 3.5), zorder=1)
    # crowded parts of the wings hold thousands of overlapping spots, so they get a heavier outline
    ax.scatter(total_t, total_lat, s=44, facecolors="none", edgecolors="black",
               linewidths=total_w, zorder=2)
    ax.scatter(hale_t, hale_lat, s=60, color=HALE_COLOR, edgecolors="none", zorder=3)

    ax.set_xlim(-6, 16)
    ax.set_ylim(-60, 60)
    ax.xaxis.set_major_locator(MultipleLocator(2))
    ax.xaxis.set_minor_locator(MultipleLocator(1))
    ax.yaxis.set_major_locator(MultipleLocator(20))
    ax.yaxis.set_minor_locator(MultipleLocator(20 / 3))
    ax.tick_params(which="both", direction="in", top=True, right=True,
                   color=FRAME_COLOR, labelsize=12.5, width=1.0)
    ax.tick_params(axis="x", which="major", length=6, pad=17)
    ax.tick_params(axis="x", which="minor", length=3.5)
    ax.tick_params(axis="y", which="major", length=10, pad=5)
    ax.tick_params(axis="y", which="minor", length=5)
    for spine in ax.spines.values():
        spine.set_color(FRAME_COLOR)
        spine.set_linewidth(1.0)

    ax.set_xlabel("Time, Years", fontsize=12.5, labelpad=9)
    ax.set_ylabel("Latitude, degrees", fontsize=12.5, labelpad=13)

    handles = [
        Line2D([], [], ls="", marker="o", ms=4, mfc="none", mec="black", mew=0.8),
        Line2D([], [], ls="", marker="o", ms=6, mfc=HALE_COLOR, mec="none"),
    ]
    ax.legend(handles, ["Total ARs", "anti-Hale ARs"], loc="upper left",
              bbox_to_anchor=(0.727, 0.985), frameon=False, fontsize=12.5,
              handletextpad=0.9, labelspacing=0.35, handlelength=1.2)

    fig.savefig("out.png", dpi=100)


if __name__ == "__main__":
    main()
